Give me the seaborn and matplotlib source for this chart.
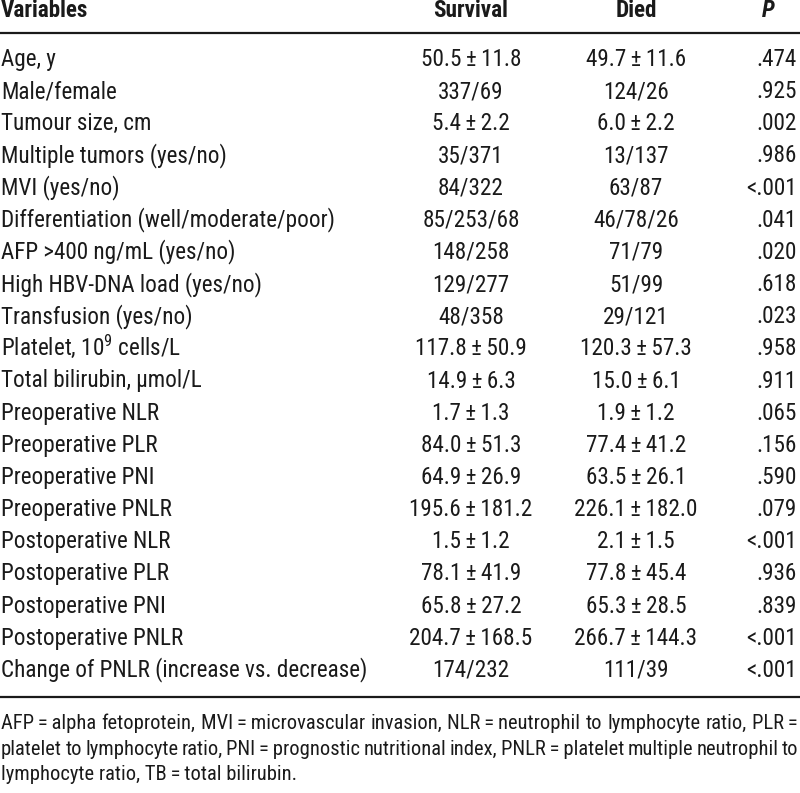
import matplotlib
matplotlib.use("Agg")
import matplotlib.pyplot as plt
from matplotlib import font_manager
import seaborn as sns

# table content
variables = [
    "Age, y", "Male/female", "Tumour size, cm", "Multiple tumors (yes/no)",
    "MVI (yes/no)", "Differentiation (well/moderate/poor)",
    "AFP >400 ng/mL (yes/no)", "High HBV-DNA load (yes/no)",
    "Transfusion (yes/no)", "Platelet, 10$^9$ cells/L",
    "Total bilirubin, \u03bcmol/L", "Preoperative NLR", "Preoperative PLR",
    "Preoperative PNI", "Preoperative PNLR", "Postoperative NLR",
    "Postoperative PLR", "Postoperative PNI", "Postoperative PNLR",
    "Change of PNLR (increase vs. decrease)",
]
PM = "\u2009\u00b1\u2009"
survival = [
    "50.5" + PM + "11.8", "337/69", "5.4" + PM + "2.2", "35/371", "84/322",
    "85/253/68", "148/258", "129/277", "48/358", "117.8" + PM + "50.9",
    "14.9" + PM + "6.3", "1.7" + PM + "1.3", "84.0" + PM + "51.3",
    "64.9" + PM + "26.9", "195.6" + PM + "181.2", "1.5" + PM + "1.2",
    "78.1" + PM + "41.9", "65.8" + PM + "27.2", "204.7" + PM + "168.5", "174/232",
]
died = [
    "49.7" + PM + "11.6", "124/26", "6.0" + PM + "2.2", "13/137", "63/87",
    "46/78/26", "71/79", "51/99", "29/121", "120.3" + PM + "57.3",
    "15.0" + PM + "6.1", "1.9" + PM + "1.2", "77.4" + PM + "41.2",
    "63.5" + PM + "26.1", "226.1" + PM + "182.0", "2.1" + PM + "1.5",
    "77.8" + PM + "45.4", "65.3" + PM + "28.5", "266.7" + PM + "144.3", "111/39",
]
p_values = [
    ".474", ".925", ".002", ".986", "<.001", ".041", ".020", ".618", ".023",
    ".958", ".911", ".065", ".156", ".590", ".079", "<.001", ".936", ".839",
    "<.001", "<.001",
]
headers = ["Variables", "Survival", "Died", "P"]
footnote_lines = [
    "AFP\u2009=\u2009alpha fetoprotein, MVI\u2009=\u2009microvascular invasion, "
    "NLR\u2009=\u2009neutrophil to lymphocyte ratio, PLR\u2009=",
    "platelet to lymphocyte ratio, PNI\u2009=\u2009prognostic nutritional index, "
    "PNLR\u2009=\u2009platelet multiple neutrophil to",
    "lymphocyte ratio, TB\u2009=\u2009total bilirubin.",
]

sns.set_theme(style="white")

# look for a narrow sans face, the journal uses a condensed Helvetica
names = {f.name for f in font_manager.fontManager.ttflist}
stretch = "normal"
main_font = None
for cand in ["Liberation Sans Narrow", "Roboto Condensed", "Noto Sans Condensed",
             "Open Sans Condensed", "Noto Sans SemiCondensed", "DejaVu Sans Condensed"]:
    if cand in names:
        main_font = cand
        break
if main_font is None:
    for f in font_manager.fontManager.ttflist:
        if f.stretch in ("condensed", "semi-condensed") and f.style == "normal" and f.weight in (400, "normal"):
            main_font, stretch = f.name, f.stretch
            break
if main_font is None:
    main_font = "Roboto"

plt.rcParams["font.family"] = [main_font, "DejaVu Sans"]
plt.rcParams["font.stretch"] = stretch
plt.rcParams["mathtext.fontset"] = "custom"
plt.rcParams["mathtext.rm"] = main_font
plt.rcParams["mathtext.it"] = main_font + ":italic"

W, H = 800, 793
fig = plt.figure(figsize=(8, 7.93), dpi=100)
ax = fig.add_axes([0, 0, 1, 1])
ax.set_xlim(0, W)
ax.set_ylim(H, 0)
ax.axis("off")
renderer = fig.canvas.get_renderer()


def fit_size(text, target, start):
    t = ax.text(0, 0, text, fontsize=start)
    w = t.get_window_extent(renderer).width
    t.remove()
    return start * target / w


body_fs = fit_size(variables[-1], 370, 14)
foot_fs = fit_size(footnote_lines[-1], 294, 12)
ink = "#1a1a1a"
var_x, surv_x, died_x, p_x, p_head_x = 1, 471, 636, 797, 768

# header
ax.text(var_x, 17, headers[0], fontsize=body_fs, fontweight="bold", color=ink, va="baseline")
ax.text(surv_x, 17, headers[1], fontsize=body_fs, fontweight="bold", color=ink, va="baseline", ha="center")
ax.text(died_x, 17, headers[2], fontsize=body_fs, fontweight="bold", color=ink, va="baseline", ha="center")
ax.text(p_head_x, 17, headers[3], fontsize=body_fs, fontweight="bold", fontstyle="italic",
        color=ink, va="baseline", ha="center")
ax.plot([0, W], [33, 33], color=ink, lw=1.6, solid_capstyle="butt")

for i, (v, s, d, p) in enumerate(zip(variables, survival, died, p_values)):
    yb = 66 + 32.15 * i
    ax.text(var_x, yb, v, fontsize=body_fs, color=ink, va="baseline")
    ax.text(surv_x, yb, s, fontsize=body_fs, color=ink, va="baseline", ha="center")
    ax.text(died_x, yb, d, fontsize=body_fs, color=ink, va="baseline", ha="center")
    ax.text(p_x, yb, p, fontsize=body_fs, color=ink, va="baseline", ha="right")

ax.plot([0, W], [696.5, 696.5], color=ink, lw=1.6, solid_capstyle="butt")

# footnote, justified like the journal layout
foot_base = [729, 755, 780]
for k, line in enumerate(footnote_lines):
    if k == len(footnote_lines) - 1:
        ax.text(1, foot_base[k], line, fontsize=foot_fs, color=ink, va="baseline")
        continue
    words = line.split(" ")
    items = [ax.text(0, foot_base[k], w, fontsize=foot_fs, color=ink, va="baseline") for w in words]
    widths = [t.get_window_extent(renderer).width for t in items]
    gap = (W - 3 - sum(widths)) / (len(words) - 1)
    x = 1
    for t, w in zip(items, widths):
        t.set_x(x)
        x += w + gap

fig.savefig("out.png", dpi=100, facecolor="white")
